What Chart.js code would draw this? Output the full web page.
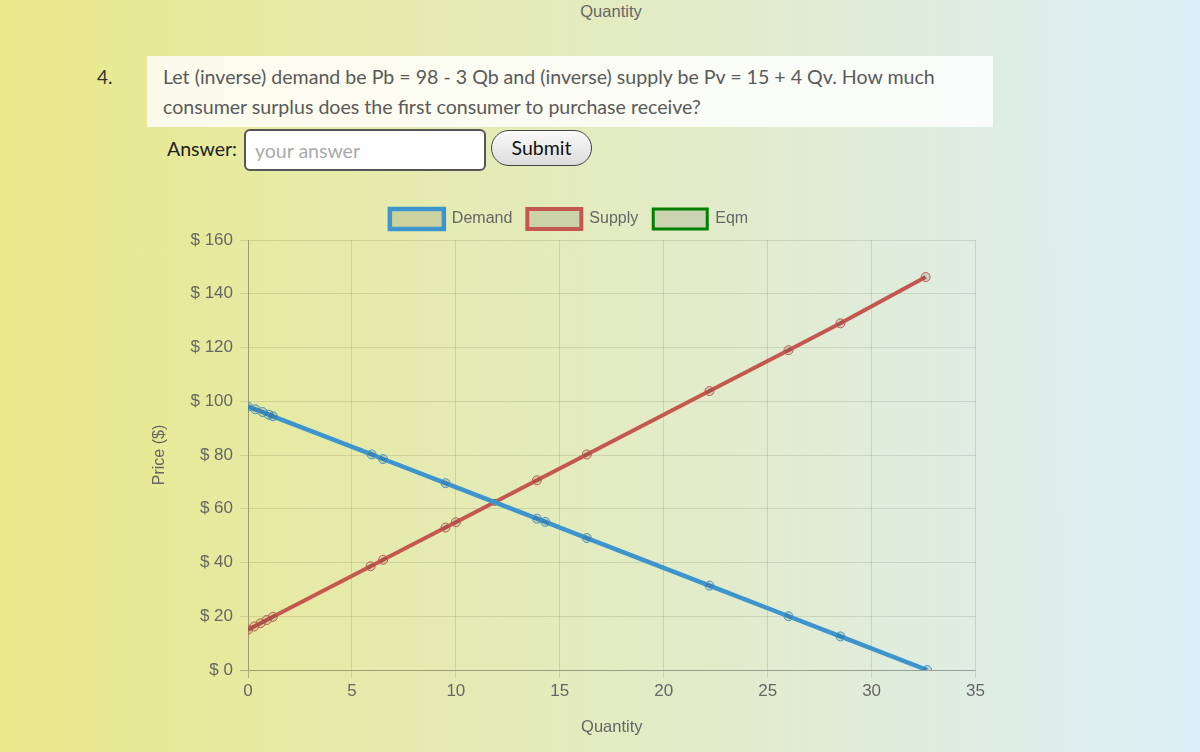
<!DOCTYPE html>
<html>
<head>
<meta charset="utf-8">
<script src="https://cdn.jsdelivr.net/npm/chart.js@4.4.1/dist/chart.umd.min.js"></script>
<style>
    html, body { margin: 0; padding: 0; }
    body {
        width: 1200px; height: 752px; overflow: hidden; position: relative;
        background: linear-gradient(to right, #e9e98a, #e3ebc0 50%, #dceef7);
        font-family: Lato, "Open Sans", sans-serif;
    }
    .prev-title { position: absolute; left: 0; width: 1222px; top: 2px; text-align: center;
        font: 16.5px "Liberation Sans", Arial, sans-serif; color: #666; }
    .num { position: absolute; left: 97px; top: 65px; font-size: 19px; color: #333; }
    .question { position: absolute; left: 147px; top: 56px; width: 830px; height: 65px;
        padding: 6px 0 0 16px; background: rgba(255,255,255,0.82);
        font-size: 19.6px; line-height: 30px; color: #5a5a5a; }
    .answer { position: absolute; left: 167px; top: 137px; font-size: 19.5px; color: #222; }
    .input { position: absolute; left: 244px; top: 129px; width: 238px; height: 38px;
        border: 2px solid #555; border-radius: 6px; background: #fff; }
    .input span { position: absolute; left: 9px; top: 8px; font-size: 19.5px; color: #aaa; }
    .btn { position: absolute; left: 491px; top: 130px; width: 99px; height: 34px;
        border: 1.5px solid #444; border-radius: 19px;
        background: linear-gradient(#fafafa, #dcdcdc);
        font-size: 19.5px; color: #111; text-align: center; line-height: 34px; }
    #wrap { position: absolute; left: 140px; top: 194px; width: 848px; height: 547px; }
</style>
</head>
<body>
<div class="prev-title">Quantity</div>
<div class="num">4.</div>
<div class="question">Let (inverse) demand be Pb = 98 - 3 Qb and (inverse) supply be Pv = 15 + 4 Qv. How much<br>consumer surplus does the first consumer to purchase receive?</div>
<div class="answer">Answer:</div>
<div class="input"><span>your answer</span></div>
<div class="btn">Submit</div>
<div id="wrap"><canvas id="chart"></canvas></div>

<script>
const demandQ = [0, 0.35, 0.7, 1.0, 1.2, 5.95, 6.5, 9.5, 13.9, 14.3, 16.3, 22.2, 26.0, 28.5, 32.67];
const demandP = [98, 97, 96, 95, 94.4, 80.2, 78.5, 69.5, 56.3, 55.1, 49.1, 31.4, 20.0, 12.5, 0];
const supplyQ = [0, 0.3, 0.6, 0.9, 1.2, 5.9, 6.5, 9.5, 10.0, 13.9, 16.3, 22.2, 26.0, 28.5, 32.6];
const supplyP = [15, 16.2, 17.4, 18.6, 19.8, 38.6, 41, 53, 55, 70.6, 80.2, 103.8, 119, 129, 146.2];
const eqmQ = [11.86];
const eqmP = [62.4];
const xTicks = [0, 5, 10, 15, 20, 25, 30, 35];
const yTicks = [0, 20, 40, 60, 80, 100, 120, 140, 160];

const toPoints = (qs, ps) => qs.map((q, i) => ({ x: q, y: ps[i] }));
const fill = 'rgba(0,0,0,0.1)';
const gridColor = ctx => ctx.tick && ctx.tick.value === 0 ? 'rgba(0,0,0,0.25)' : 'rgba(0,0,0,0.1)';

// extra room under the legend
const legendGap = {
    id: 'legendGap',
    beforeInit(chart) {
        const fit = chart.legend.fit;
        chart.legend.fit = function () {
            fit.bind(chart.legend)();
            this.height += 1;
        };
    }
};

Chart.defaults.font.family = '"Liberation Sans", Arial, sans-serif';
Chart.defaults.font.size = 16;
Chart.defaults.color = '#666';

new Chart(document.getElementById('chart'), {
    type: 'line',
    data: {
        datasets: [{
            label: 'Demand',
            data: toPoints(demandQ, demandP),
            borderColor: '#3e95cd',
            backgroundColor: fill,
            borderWidth: 4.5,
            pointRadius: 4.5,
            pointBorderWidth: 1,
            fill: false
        }, {
            label: 'Supply',
            data: toPoints(supplyQ, supplyP),
            borderColor: '#c45850',
            backgroundColor: fill,
            borderWidth: 4,
            pointRadius: 4.5,
            pointBorderWidth: 1,
            fill: false
        }, {
            label: 'Eqm',
            data: toPoints(eqmQ, eqmP),
            borderColor: 'green',
            backgroundColor: fill,
            borderWidth: 3,
            pointRadius: 3,
            pointBorderWidth: 1,
            showLine: false
        }]
    },
    plugins: [legendGap],
    options: {
        responsive: true,
        maintainAspectRatio: false,
        animation: false,
        layout: { padding: { left: 10 } },
        plugins: {
            legend: {
                labels: { boxWidth: 54, boxHeight: 20, padding: 15, font: { size: 16 } }
            },
            tooltip: { enabled: false }
        },
        scales: {
            x: {
                type: 'linear',
                min: 0, max: 35,
                afterBuildTicks: s => { s.ticks = xTicks.map(v => ({ value: v })); },
                afterFit: s => { s.height = 71; },
                ticks: { font: { size: 17 } },
                grid: { color: gridColor },
                title: { display: true, text: 'Quantity', font: { size: 16.5 } }
            },
            y: {
                min: 0, max: 160,
                afterBuildTicks: s => { s.ticks = yTicks.map(v => ({ value: v })); },
                afterFit: s => { s.width = 98; },
                ticks: { callback: v => '$ ' + v, font: { size: 17 }, padding: 7 },
                grid: { color: gridColor },
                title: { display: true, text: 'Price ($)', font: { size: 16 }, padding: { top: 0 } }
            }
        }
    }
});
</script>
</body>
</html>
